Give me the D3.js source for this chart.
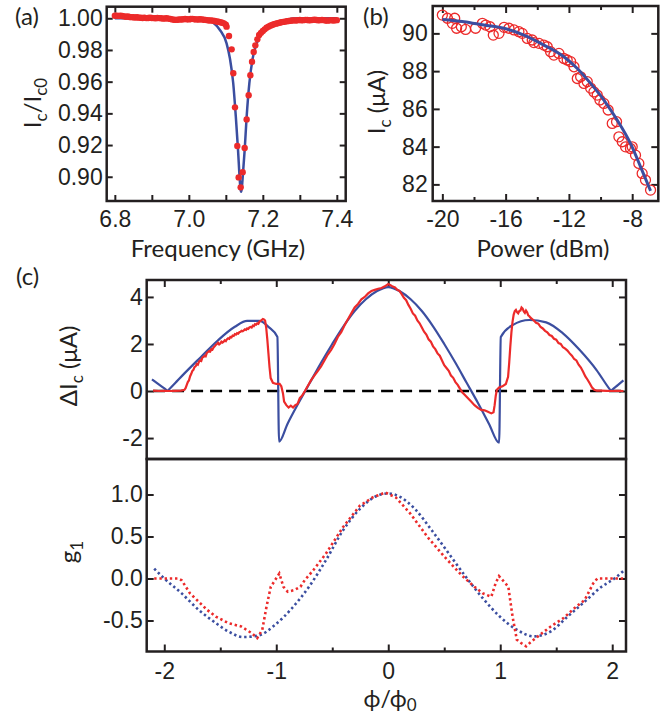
<!DOCTYPE html>
<html lang="en">
<head>
<meta charset="UTF-8">
<title>Critical current: resonance, power and flux dependence</title>
<script src="https://d3js.org/d3.v7.min.js"></script>
<style>
  body { margin: 0; background: #fff; }
  .title { font-family: Lato, "Open Sans", sans-serif; font-size: 24px; fill: #231f20; }
</style>
</head>
<body>
<script>

// ---------- panel (a): Ic/Ic0 vs frequency ----------
const resData = [
  [6.800,1.0016],[6.805,1.0017],[6.810,1.0015],[6.815,1.0016],[6.820,1.0014],[6.825,1.0012],
  [6.830,1.0010],[6.835,1.0011],[6.840,1.0008],[6.845,1.0007],[6.850,1.0006],[6.855,1.0005],
  [6.860,1.0006],[6.865,1.0004],[6.870,1.0003],[6.875,1.0002],[6.880,1.0003],[6.885,1.0001],
  [6.890,1.0002],[6.895,1.0003],[6.900,1.0002],[6.905,1.0001],[6.910,1.0000],[6.915,1.0002],
  [6.920,1.0001],[6.925,1.0000],[6.930,0.9998],[6.935,0.9999],[6.940,1.0000],[6.945,0.9998],
  [6.950,0.9996],[6.955,0.9993],[6.960,0.9991],[6.965,0.9990],[6.970,0.9991],[6.975,0.9993],
  [6.980,0.9992],[6.985,0.9994],[6.990,0.9995],[6.995,0.9994],[7.000,0.9993],[7.005,0.9995],
  [7.010,0.9996],[7.015,0.9994],[7.020,0.9993],[7.025,0.9992],[7.030,0.9994],[7.035,0.9993],
  [7.040,0.9991],[7.045,0.9990],[7.050,0.9988],[7.055,0.9986],[7.060,0.9987],[7.065,0.9985],
  [7.070,0.9983],[7.075,0.9980],[7.080,0.9978],[7.085,0.9975],[7.090,0.9972],[7.095,0.9968],
  [7.100,0.9960],[7.102,0.9947],[7.1085,0.9888],[7.1157,0.9804],[7.1202,0.9653],[7.1248,0.9438],
  [7.131,0.9194],[7.1347,0.8996],[7.1401,0.8933],[7.1455,0.9029],[7.1509,0.9181],[7.1563,0.9362],
  [7.1617,0.9514],[7.1663,0.9640],[7.1708,0.9726],[7.1753,0.9787],[7.1798,0.9829],[7.1852,0.9867],
  [7.190,0.9895],[7.195,0.9908],[7.200,0.9920],[7.205,0.9930],[7.210,0.9940],[7.215,0.9947],
  [7.220,0.9953],[7.225,0.9958],[7.230,0.9962],[7.235,0.9966],[7.240,0.9969],[7.245,0.9972],
  [7.250,0.9975],[7.255,0.9977],[7.260,0.9979],[7.265,0.9981],[7.270,0.9983],[7.275,0.9984],
  [7.280,0.9986],[7.285,0.9987],[7.290,0.9986],[7.295,0.9988],[7.300,0.9989],[7.305,0.9987],
  [7.310,0.9988],[7.315,0.9990],[7.320,0.9989],[7.325,0.9987],[7.330,0.9988],[7.335,0.9990],
  [7.340,0.9991],[7.345,0.9989],[7.350,0.9987],[7.355,0.9988],[7.360,0.9990],[7.365,0.9988],
  [7.370,0.9986],[7.375,0.9985],[7.380,0.9987],[7.385,0.9988],[7.390,0.9986],[7.395,0.9987],
  [7.400,0.9988]
];
const resFit = [
  [6.800,1.0000],[6.900,1.0000],[7.000,0.9995],[7.048,0.9989],[7.084,0.9926],[7.102,0.9842],
  [7.111,0.9747],[7.120,0.9590],[7.127,0.9379],[7.133,0.9168],[7.1377,0.8979],[7.1395,0.8925],
  [7.1413,0.8905],[7.1431,0.8925],[7.145,0.8979],[7.1509,0.9168],[7.1563,0.9379],[7.1636,0.9590],
  [7.1726,0.9747],[7.1834,0.9842],[7.2015,0.9916],[7.2285,0.9968],[7.2646,0.9989],[7.2826,0.9998],
  [7.400,1.0000]
];
const freqTicks = [6.8, 7.0, 7.2, 7.4];
const freqMinor = [6.9, 7.1, 7.3];
const ratioTicks = [0.90, 0.92, 0.94, 0.96, 0.98, 1.00];

// ---------- panel (b): Ic vs power ----------
const powData = [
  [-20.0,90.97],[-19.68,90.80],[-19.37,90.53],[-19.22,90.80],[-19.1,90.27],[-18.8,90.35],
  [-18.53,90.21],[-17.9,90.27],[-17.47,90.53],[-17.26,90.44],[-16.99,90.35],[-16.78,89.91],
  [-16.42,90.0],[-16.1,90.32],[-15.79,90.27],[-15.47,90.18],[-15.16,90.09],[-14.95,90.0],
  [-14.63,89.73],[-14.32,89.65],[-14.21,89.51],[-13.89,89.47],[-13.58,89.38],[-13.37,89.29],
  [-13.16,89.03],[-12.95,88.85],[-12.63,88.94],[-12.32,88.67],[-12.11,88.59],[-11.89,88.50],
  [-11.68,88.23],[-11.47,87.61],[-11.26,87.70],[-11.05,87.35],[-10.84,87.44],[-10.63,87.10],
  [-10.42,86.90],[-10.21,86.73],[-10.04,86.47],[-9.79,86.29],[-9.52,85.94],[-9.26,85.23],
  [-8.99,85.32],[-8.84,84.52],[-8.63,84.26],[-8.42,83.99],[-8.11,83.90],[-8.0,83.99],
  [-7.79,83.55],[-7.58,83.11],[-7.37,82.58],[-7.16,82.23],[-6.84,81.70]
];
const powFit = [
  [-20.0,90.74],[-18.63,90.62],[-17.37,90.44],[-16.11,90.27],[-14.84,89.91],[-13.58,89.38],
  [-12.32,88.76],[-11.47,88.14],[-10.63,87.35],[-9.79,86.47],[-8.95,85.41],[-8.11,84.17],
  [-7.47,82.93],[-6.84,81.66]
];
const powTicks = [-20, -16, -12, -8];
const powMinor = [-18, -14, -10];
const icTicks = [82, 84, 86, 88, 90];

// ---------- panel (c): flux dependence ----------
const dIcMeas = [
  [-2.10,0.02],[-2.05,0.0],[-2.00,0.01],[-1.95,0.0],[-1.90,0.01],[-1.85,0.02],[-1.82,0.05],
  [-1.81,0.12],[-1.80,0.25],[-1.79,0.38],[-1.78,0.45],[-1.77,0.62],[-1.76,0.72],[-1.75,0.85],
  [-1.74,0.9],[-1.73,1.02],[-1.72,1.05],[-1.71,1.15],[-1.70,1.12],[-1.69,1.25],[-1.68,1.3],
  [-1.67,1.28],[-1.66,1.42],[-1.65,1.45],[-1.64,1.5],[-1.63,1.48],[-1.62,1.62],[-1.61,1.66],
  [-1.60,1.7],[-1.59,1.68],[-1.58,1.78],[-1.57,1.76],[-1.56,1.85],[-1.55,1.9],[-1.54,1.96],
  [-1.53,2.0],[-1.52,2.05],[-1.51,1.98],[-1.50,2.02],[-1.49,2.1],[-1.48,2.06],[-1.47,2.1],
  [-1.46,2.16],[-1.45,2.12],[-1.44,2.2],[-1.43,2.24],[-1.42,2.22],[-1.41,2.3],[-1.40,2.28],
  [-1.39,2.36],[-1.38,2.34],[-1.37,2.42],[-1.36,2.4],[-1.35,2.46],[-1.34,2.44],[-1.33,2.5],
  [-1.32,2.52],[-1.31,2.56],[-1.30,2.54],[-1.29,2.58],[-1.28,2.62],[-1.27,2.6],[-1.26,2.66],
  [-1.25,2.64],[-1.24,2.7],[-1.23,2.72],[-1.22,2.7],[-1.21,2.78],[-1.20,2.76],[-1.19,2.84],
  [-1.18,2.82],[-1.17,2.88],[-1.16,2.86],[-1.15,2.95],[-1.14,2.98],[-1.13,3.02],[-1.12,3.06],
  [-1.11,3.04],[-1.10,3.0],[-1.09,2.7],[-1.08,2.2],[-1.07,1.6],[-1.06,1.0],[-1.05,0.55],
  [-1.03,0.35],[-1.00,0.3],[-0.97,0.3],[-0.955,0.2],[-0.94,-0.1],[-0.93,-0.45],[-0.91,-0.6],
  [-0.89,-0.7],[-0.87,-0.62],[-0.85,-0.7],[-0.83,-0.6],[-0.81,-0.55],[-0.79,-0.3],[-0.77,-0.2],
  [-0.75,-0.05],[-0.72,0.2],[-0.69,0.45],[-0.66,0.65],[-0.63,0.85],[-0.60,1.05],[-0.57,1.3],
  [-0.54,1.55],[-0.51,1.75],[-0.48,2.0],[-0.45,2.3],[-0.42,2.5],[-0.39,2.8],[-0.36,3.05],
  [-0.33,3.3],[-0.30,3.55],[-0.27,3.7],[-0.24,3.9],[-0.21,4.0],[-0.18,4.15],[-0.15,4.25],
  [-0.12,4.3],[-0.09,4.35],[-0.06,4.38],[-0.03,4.45],[0.0,4.55],[0.02,4.5],[0.04,4.44],
  [0.06,4.4],[0.08,4.3],[0.10,4.26],[0.12,4.12],[0.14,3.96],[0.16,3.86],[0.18,3.66],
  [0.20,3.5],[0.22,3.3],[0.24,3.2],[0.26,3.0],[0.28,2.88],[0.30,2.7],[0.32,2.52],[0.34,2.4],
  [0.36,2.2],[0.38,2.1],[0.40,1.9],[0.42,1.78],[0.44,1.6],[0.46,1.5],[0.48,1.3],[0.50,1.1],
  [0.52,0.98],[0.54,0.86],[0.56,0.66],[0.58,0.56],[0.60,0.38],[0.62,0.26],[0.64,0.1],
  [0.66,-0.05],[0.68,-0.15],[0.71,-0.3],[0.74,-0.45],[0.77,-0.6],[0.80,-0.72],[0.83,-0.8],
  [0.86,-0.82],[0.89,-0.88],[0.92,-0.95],[0.94,-0.9],[0.95,-0.6],[0.96,-0.2],[0.97,0.05],
  [0.99,0.15],[1.02,0.2],[1.05,0.3],[1.07,0.6],[1.08,1.2],[1.09,1.9],[1.10,2.5],[1.11,2.95],
  [1.12,3.25],[1.13,3.4],[1.14,3.45],[1.15,3.35],[1.16,3.3],[1.17,3.4],[1.18,3.42],[1.19,3.55],
  [1.20,3.5],[1.21,3.38],[1.22,3.32],[1.23,3.42],[1.24,3.35],[1.25,3.22],[1.26,3.18],
  [1.27,3.12],[1.28,3.08],[1.30,3.0],[1.32,2.9],[1.34,2.86],[1.36,2.72],[1.38,2.66],[1.40,2.56],
  [1.42,2.5],[1.44,2.38],[1.46,2.34],[1.48,2.22],[1.50,2.18],[1.52,2.04],[1.54,2.0],[1.56,1.86],
  [1.58,1.8],[1.60,1.72],[1.62,1.6],[1.64,1.5],[1.66,1.36],[1.68,1.3],[1.70,1.12],[1.72,1.0],
  [1.74,0.82],[1.76,0.62],[1.78,0.48],[1.80,0.32],[1.82,0.15],[1.84,0.05],[1.86,0.02],
  [1.90,0.02],[1.95,0.01],[2.00,0.0],[2.05,0.01],[2.10,0.0]
];
const dIcModel = [
  [-2.11,0.50],[-2.04,0.25],[-1.98,0.04],[-1.97,0.0],[-1.96,0.05],[-1.90,0.35],[-1.82,0.75],
  [-1.67,1.46],[-1.52,2.16],[-1.37,2.73],[-1.26,2.98],[-1.15,2.98],[-1.07,2.73],[-0.99,2.30],
  [-0.975,-2.15],[-0.90,-1.40],[-0.80,-0.50],[-0.70,0.35],[-0.60,1.20],[-0.50,2.00],
  [-0.40,2.75],[-0.30,3.40],[-0.20,3.90],[-0.10,4.25],[0.0,4.42],[0.10,4.25],[0.20,3.90],
  [0.30,3.40],[0.40,2.75],[0.50,2.00],[0.60,1.20],[0.70,0.35],[0.80,-0.50],[0.90,-1.40],
  [0.99,-2.20],[1.005,2.30],[1.11,2.80],[1.26,3.02],[1.41,2.92],[1.56,2.45],[1.71,1.74],
  [1.86,0.89],[1.98,0.06],[1.99,0.0],[2.00,0.05],[2.05,0.25],[2.10,0.45]
];
const g1Meas = [
  [-2.09,0.0],[-1.88,0.0],[-1.845,-0.02],[-1.77,-0.177],[-1.693,-0.276],[-1.617,-0.374],
  [-1.54,-0.453],[-1.428,-0.531],[-1.314,-0.571],[-1.22,-0.65],[-1.17,-0.709],[-1.125,-0.61],
  [-1.087,-0.335],[-1.049,-0.098],[-1.011,-0.02],[-0.973,0.059],[-0.936,-0.098],[-0.898,-0.157],
  [-0.84,-0.138],[-0.784,-0.098],[-0.746,-0.02],[-0.67,0.098],[-0.557,0.295],[-0.405,0.61],
  [-0.254,0.866],[-0.14,0.965],[-0.027,1.024],[0.068,0.965],[0.2,0.768],[0.352,0.492],
  [0.504,0.256],[0.655,0.039],[0.769,-0.098],[0.845,-0.177],[0.92,-0.217],[0.958,-0.059],
  [0.989,0.028],[1.034,-0.039],[1.072,-0.098],[1.11,-0.453],[1.148,-0.728],[1.186,-0.768],
  [1.231,-0.807],[1.28,-0.748],[1.337,-0.689],[1.451,-0.571],[1.564,-0.472],[1.678,-0.335],
  [1.754,-0.256],[1.83,-0.059],[1.867,0.0],[2.1,0.0]
];
const g1Model = [
  [-2.09,0.118],[-2.0,0.0],[-1.845,-0.177],[-1.693,-0.374],[-1.54,-0.53],[-1.428,-0.63],
  [-1.295,-0.697],[-1.163,-0.681],[-1.01,-0.551],[-0.86,-0.354],[-0.708,-0.098],[-0.557,0.217],
  [-0.405,0.571],[-0.254,0.827],[-0.102,0.984],[0.0,1.012],[0.087,0.984],[0.239,0.827],
  [0.39,0.571],[0.542,0.295],[0.693,0.02],[0.845,-0.236],[0.996,-0.453],[1.148,-0.61],
  [1.3,-0.689],[1.451,-0.63],[1.602,-0.453],[1.754,-0.276],[1.905,-0.098],[2.019,0.0],[2.1,0.09]
];
const phiTicks = [-2, -1, 0, 1, 2];
const phiMinor = [-1.5, -0.5, 0.5, 1.5];
const dIcTicks = [-2, 0, 2, 4];
const g1Ticks = [-0.5, 0.0, 0.5, 1.0];

const ink = "#231f20", red = "#ec2a2a", blue = "#3b4ea0";
const tickFont = '"Liberation Sans", Arial, sans-serif';

const svg = d3.select("body").append("svg").attr("width", 668).attr("height", 718);

function addAxis(g, axis, tx, ty) {
  const a = g.append("g").attr("transform", `translate(${tx},${ty})`).call(axis);
  a.select(".domain").remove();
  a.selectAll("line").attr("stroke", ink).attr("stroke-width", 2);
  a.selectAll("text").attr("fill", ink)
    .style("font-family", tickFont).style("font-size", "23px");
  return a;
}

// builds scales + ticks + frame for one plot box
function panel(box, xd, yd, o) {
  const x = d3.scaleLinear().domain(xd).range([box.l, box.r]);
  const y = d3.scaleLinear().domain(yd).range([box.b, box.t]);
  const g = svg.append("g");
  if (o.bottom) {
    addAxis(g, d3.axisBottom(x).tickValues(o.xMajor).tickSize(-o.xLen)
      .tickPadding(o.xPad).tickFormat(o.xFmt), 0, box.b);
    addAxis(g, d3.axisBottom(x).tickValues(o.xMinor).tickSize(-o.xMinLen).tickFormat(""), 0, box.b);
  }
  if (o.top) {
    addAxis(g, d3.axisTop(x).tickValues(o.xMajor).tickSize(-o.xLen).tickFormat(""), 0, box.t);
    addAxis(g, d3.axisTop(x).tickValues(o.xMinor).tickSize(-o.xMinLen).tickFormat(""), 0, box.t);
  }
  addAxis(g, d3.axisLeft(y).tickValues(o.yMajor).tickSize(-o.yLen)
    .tickPadding(o.yPad).tickFormat(o.yFmt), box.l, 0);
  addAxis(g, d3.axisRight(y).tickValues(o.yMajor).tickSize(-o.yLen).tickFormat(""), box.r, 0);
  g.append("rect")
    .attr("x", box.l).attr("y", box.t)
    .attr("width", box.r - box.l).attr("height", box.b - box.t)
    .attr("fill", "none").attr("stroke", ink).attr("stroke-width", 2.5);
  return {x, y, g};
}

function title(x, y, rot, parts, size) {
  const t = svg.append("text").attr("class", "title")
    .attr("text-anchor", "middle")
    .attr("transform", `translate(${x},${y}) rotate(${rot})`);
  if (size) t.style("font-size", size + "px");
  parts.forEach(p => {
    const s = t.append("tspan").text(p[0]);
    if (p[1] === "sub") s.attr("font-size", "17px").attr("dy", p[2] || 6);
    if (p[1] === "up") s.attr("dy", -6);
  });
}

// ---------- (a) ----------
const A = panel({l: 106.7, r: 345.7, t: 6.7, b: 201}, [6.778, 7.424], [0.8847, 1.0073], {
  bottom: true, top: true, xMajor: freqTicks, xMinor: freqMinor, xLen: 6, xMinLen: 6,
  xPad: 10, xFmt: d3.format(".1f"),
  yMajor: ratioTicks, yLen: 6, yPad: 4, yFmt: d3.format(".2f")
});
A.g.append("path").datum(resFit)
  .attr("d", d3.line().x(d => A.x(d[0])).y(d => A.y(d[1])).curve(d3.curveMonotoneX))
  .attr("fill", "none").attr("stroke", blue).attr("stroke-width", 2.5);
A.g.selectAll("circle.pt").data(resData).enter().append("circle")
  .attr("cx", d => A.x(d[0])).attr("cy", d => A.y(d[1])).attr("r", 3.2)
  .attr("fill", red);

// ---------- (b) ----------
const B = panel({l: 432.7, r: 658.3, t: 6, b: 201}, [-20.61, -6.35], [81.12, 91.45], {
  bottom: true, top: true, xMajor: powTicks, xMinor: powMinor, xLen: 7, xMinLen: 4,
  xPad: 10, xFmt: d => String(d),
  yMajor: icTicks, yLen: 7, yPad: 5, yFmt: d => String(d)
});
B.g.selectAll("circle.pt").data(powData).enter().append("circle")
  .attr("cx", d => B.x(d[0])).attr("cy", d => B.y(d[1])).attr("r", 5)
  .attr("fill", "none").attr("stroke", red).attr("stroke-width", 1.3);
B.g.append("path").datum(powFit)
  .attr("d", d3.line().x(d => B.x(d[0])).y(d => B.y(d[1])).curve(d3.curveMonotoneX))
  .attr("fill", "none").attr("stroke", blue).attr("stroke-width", 3);

// ---------- (c) upper ----------
const phiDom = [-2.157, 2.123];
const C1 = panel({l: 146.7, r: 626, t: 280, b: 459}, phiDom, [-2.89, 4.72], {
  bottom: false, top: true, xMajor: phiTicks, xMinor: phiMinor, xLen: 7, xMinLen: 4,
  yMajor: dIcTicks, yLen: 7, yPad: 4, yFmt: d => String(d)
});
C1.g.append("line")
  .attr("x1", C1.x(-2.1)).attr("x2", C1.x(2.1)).attr("y1", C1.y(0)).attr("y2", C1.y(0))
  .attr("stroke", "#000").attr("stroke-width", 2.5).attr("stroke-dasharray", "12 7");
C1.g.append("path").datum(dIcModel)
  .attr("d", d3.line().x(d => C1.x(d[0])).y(d => C1.y(d[1])).curve(d3.curveMonotoneX))
  .attr("fill", "none").attr("stroke", blue).attr("stroke-width", 2.2);
C1.g.append("path").datum(dIcMeas)
  .attr("d", d3.line().x(d => C1.x(d[0])).y(d => C1.y(d[1])))
  .attr("fill", "none").attr("stroke", red).attr("stroke-width", 2.2);

// ---------- (c) lower ----------
const C2 = panel({l: 146.7, r: 626, t: 459, b: 651.5}, phiDom, [-0.869, 1.423], {
  bottom: true, top: false, xMajor: phiTicks, xMinor: phiMinor, xLen: 7, xMinLen: 4,
  xPad: 11, xFmt: d => String(d),
  yMajor: g1Ticks, yLen: 7, yPad: 4, yFmt: d => d.toFixed(1)
});
C2.g.append("path").datum(g1Model)
  .attr("d", d3.line().x(d => C2.x(d[0])).y(d => C2.y(d[1])).curve(d3.curveMonotoneX))
  .attr("fill", "none").attr("stroke", blue).attr("stroke-width", 2.6)
  .attr("stroke-dasharray", "2.4 2.8");
C2.g.append("path").datum(g1Meas)
  .attr("d", d3.line().x(d => C2.x(d[0])).y(d => C2.y(d[1])))
  .attr("fill", "none").attr("stroke", red).attr("stroke-width", 2.6)
  .attr("stroke-dasharray", "2.4 2.8");

// ---------- titles ----------
title(218, 257, 0, [["Frequency (GHz)"]]);
title(543, 257, 0, [["Power (dBm)"]]);
title(390, 707, 0, [["\u03d5/\u03d5"], ["0", "sub", 4]], 23);
title(41, 103, -90, [["I"], ["c", "sub"], ["/I", "up"], ["c0", "sub"]]);
title(385, 102, -90, [["I"], ["c", "sub"], [" (\u03bcA)", "up"]]);
title(77, 366, -90, [["\u0394I"], ["c", "sub"], [" (\u03bcA)", "up"]]);
title(77, 552, -90, [["g"], ["1", "sub"]]);

svg.append("text").attr("class", "title").attr("x", 15).attr("y", 25).text("(a)");
svg.append("text").attr("class", "title").attr("x", 363).attr("y", 25).text("(b)");
svg.append("text").attr("class", "title").attr("x", 16).attr("y", 285).text("(c)");

</script>
</body>
</html>
